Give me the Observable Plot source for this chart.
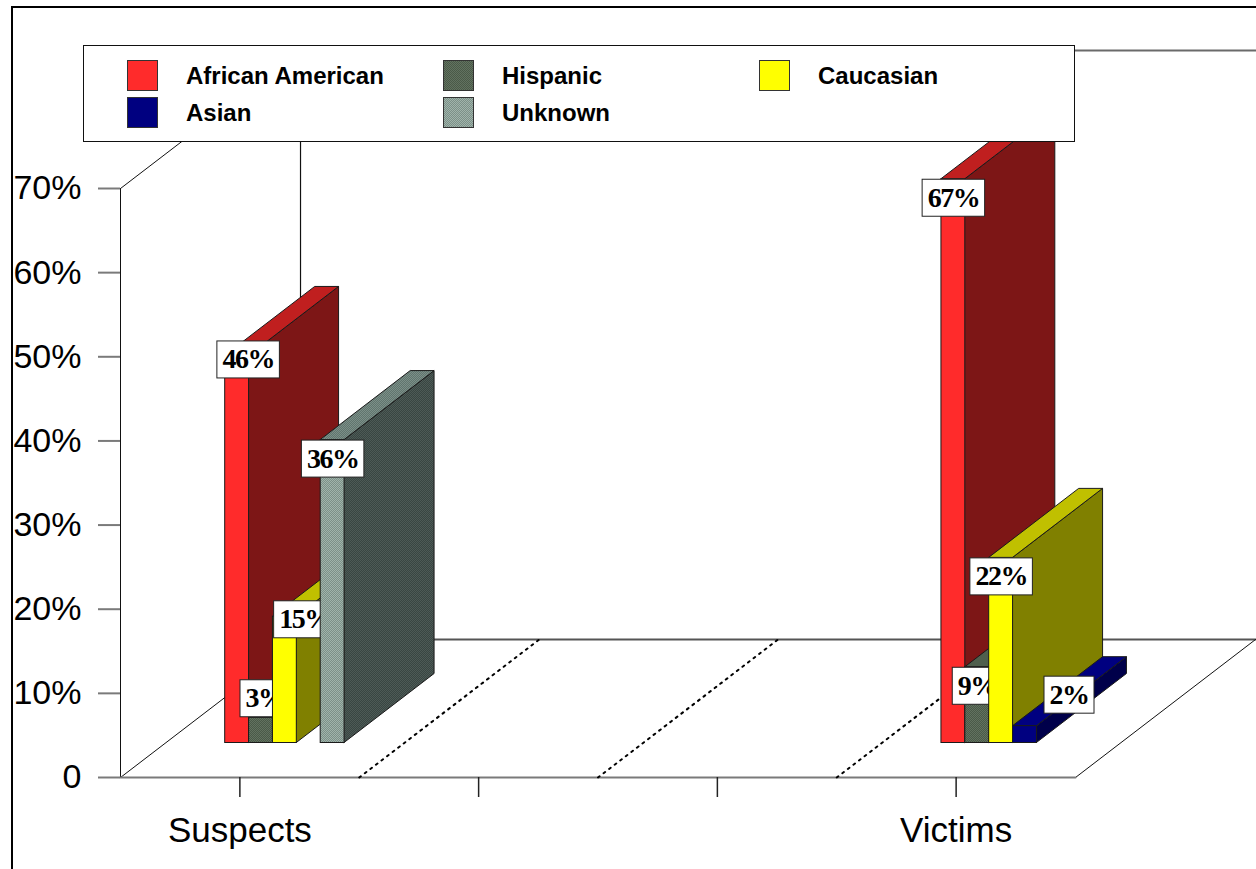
<!DOCTYPE html>
<html>
<head>
<meta charset="utf-8">
<script src="https://cdn.jsdelivr.net/npm/d3@7"></script>
<script src="https://cdn.jsdelivr.net/npm/@observablehq/plot@0.6"></script>
<style>
  body { margin: 0; background: #fff; }
  #wrap { position: relative; width: 1256px; height: 869px; overflow: hidden; font-family: "Liberation Sans", Arial, sans-serif; }
  #frame { position: absolute; left: 11px; top: 6px; width: 1400px; height: 1000px; border-top: 2.5px solid #000; border-left: 2.5px solid #000; pointer-events: none; }
  #chart { position: absolute; left: 0; top: 0; }
  #legend { position: absolute; left: 83px; top: 45px; width: 990px; height: 95px; border: 1.5px solid #111; background: #fff; }
  .item { position: absolute; display: flex; align-items: center; font-weight: bold; font-size: 24px; color: #000; }
  .sw { width: 31px; height: 31px; border: 1px solid #333; box-sizing: border-box; margin-right: 28px; }
</style>
</head>
<body>
<svg width="0" height="0" style="position:absolute">
  <defs>
    <pattern id="stipple-hisp-front" width="2" height="2" patternUnits="userSpaceOnUse">
      <rect width="2" height="2" fill="#4a5a48"/><rect width="1" height="1" fill="#627260"/><rect x="1" y="1" width="1" height="1" fill="#627260"/>
    </pattern>
    <pattern id="stipple-hisp-side" width="2" height="2" patternUnits="userSpaceOnUse">
      <rect width="2" height="2" fill="#333f33"/><rect width="1" height="1" fill="#475347"/><rect x="1" y="1" width="1" height="1" fill="#475347"/>
    </pattern>
    <pattern id="stipple-unk-front" width="2" height="2" patternUnits="userSpaceOnUse">
      <rect width="2" height="2" fill="#7c9088"/><rect width="1" height="1" fill="#a0b4ab"/><rect x="1" y="1" width="1" height="1" fill="#a0b4ab"/>
    </pattern>
    <pattern id="stipple-unk-side" width="2" height="2" patternUnits="userSpaceOnUse">
      <rect width="2" height="2" fill="#394642"/><rect width="1" height="1" fill="#4d5a56"/><rect x="1" y="1" width="1" height="1" fill="#4d5a56"/>
    </pattern>
    <pattern id="stipple-unk-top" width="2" height="2" patternUnits="userSpaceOnUse">
      <rect width="2" height="2" fill="#61756e"/><rect width="1" height="1" fill="#7b8f88"/><rect x="1" y="1" width="1" height="1" fill="#7b8f88"/>
    </pattern>
  </defs>
</svg>
<div id="wrap">
  <div id="chart"></div>
  <div id="legend"></div>
  <div id="frame"></div>
</div>
<script>
// ---- data ----
const categories = ["Suspects", "", "", "Victims"];
const races = ["African American", "Hispanic", "Caucasian", "Asian", "Unknown"];
const suspects = [46, 3, 15, 0, 36];
const victims = [67, 9, 22, 2, 0];
const yTicks = [0, 10, 20, 30, 40, 50, 60, 70];

// ---- colours per race: front face, right side face, top face, legend swatch ----
const frontFill = ["#ff2b2b", "url(#stipple-hisp-front)", "#ffff00", "#000080", "url(#stipple-unk-front)"];
const sideFill = ["#7d1616", "url(#stipple-hisp-side)", "#808000", "#00004a", "url(#stipple-unk-side)"];
const topFill = ["#c01f1f", "#4f5f4d", "#c0c000", "#000080", "url(#stipple-unk-top)"];
const swatchCss = [
  "#ff2b2b",
  "repeating-conic-gradient(#4a5a48 0 25%, #627260 0 50%) 0 0/2px 2px",
  "#ffff00",
  "#000080",
  "repeating-conic-gradient(#7c9088 0 25%, #a0b4ab 0 50%) 0 0/2px 2px"
];

// ---- pseudo-3D geometry (in data units) ----
const DX = 0.754;           // horizontal shift of the full floor depth, in category slots
const DY = 16.4;            // vertical shift of the full floor depth, in percent
const Z0 = 0.25, Z1 = 0.75; // depth range occupied by the bars
const GROUP = 0.5;          // share of a category slot taken by its bar group
const BAR = GROUP / races.length;
const nCat = categories.length;
const yMax = d3.max(yTicks);
const LABEL_FONT = "'Liberation Serif', 'Times New Roman', serif";
const BOX_H = 37;           // height of a value label box, px

const groups = [
  {cat: categories.indexOf("Suspects"), values: suspects},
  {cat: categories.indexOf("Victims"), values: victims}
];

const bars = [];
for (const {cat, values} of groups) {
  values.forEach((v, i) => {
    if (v > 0) {
      const x1 = cat + (1 - GROUP) / 2 + i * BAR;
      bars.push({id: `${categories[cat]}|${races[i]}`, race: i, v, x1, x2: x1 + BAR});
    }
  });
}

// label offsets (px) where a label sits away from its bar top
const labelNudge = {
  "Suspects|African American": [11, -15],
  "Suspects|Hispanic": [4, -38],
  "Suspects|Caucasian": [20, -16],
  "Victims|Asian": [44, -50]
};

// ---- floor and wall outline ----
const edges = [
  {pts: [[DX, yMax + DY], [nCat + DX, yMax + DY]], stroke: "#6a6a6a", w: 2},
  {pts: [[DX, DY], [nCat + DX, DY]], stroke: "#555", w: 2},
  {pts: [[DX, DY], [DX, yMax + DY]], stroke: "#111", w: 1.2},
  {pts: [[0, 0], [0, yMax]], stroke: "#111", w: 1},
  {pts: [[0, yMax], [DX, yMax + DY]], stroke: "#111", w: 1},
  {pts: [[0, 0], [DX, DY]], stroke: "#111", w: 1},
  {pts: [[nCat, 0], [nCat + DX, DY]], stroke: "#111", w: 1},
  {pts: [[0, 0], [nCat, 0]], stroke: "#7a7a7a", w: 2}
];
const edgeMarks = edges.map(e => Plot.line(e.pts, {x: p => p[0], y: p => p[1], stroke: e.stroke, strokeWidth: e.w}));

const gridPts = d3.range(1, nCat).flatMap(k => [{k, x: k, y: 0}, {k, x: k + DX, y: DY}]);
const gridMark = Plot.line(gridPts, {x: "x", y: "y", z: "k", stroke: "#000", strokeWidth: 2, strokeDasharray: "2 5"});

// ---- bars: side, top and front faces, then the value label, series by series ----
const barMarks = [];
races.forEach((race, i) => {
  const rb = bars.filter(b => b.race === i);
  if (!rb.length) return;
  const sidePts = rb.flatMap(b => [Z0, Z1].map(z => ({id: b.id, x: b.x2 + z * DX, y1: z * DY, y2: b.v + z * DY})));
  const topPts = rb.flatMap(b => [Z0, Z1].map(z => ({id: b.id, y: b.v + z * DY, x1: b.x1 + z * DX, x2: b.x2 + z * DX})));
  barMarks.push(
    Plot.areaY(sidePts, {x: "x", y1: "y1", y2: "y2", z: "id", fill: sideFill[i], stroke: "#1a1a1a", strokeWidth: 1}),
    Plot.areaX(topPts, {y: "y", x1: "x1", x2: "x2", z: "id", fill: topFill[i], stroke: "#1a1a1a", strokeWidth: 1}),
    Plot.rect(rb, {
      x1: b => b.x1 + Z0 * DX, x2: b => b.x2 + Z0 * DX,
      y1: () => Z0 * DY, y2: b => b.v + Z0 * DY,
      fill: frontFill[i], stroke: "#1a1a1a", strokeWidth: 1, inset: 0
    })
  );
  for (const b of rb) {
    const [ndx, ndy] = labelNudge[b.id] || [0, 0];
    barMarks.push(Plot.text([b], {
      x: d => (d.x1 + d.x2) / 2 + Z0 * DX,
      y: d => d.v + Z0 * DY,
      text: d => `${d.v}%`,
      dx: ndx, dy: BOX_H / 2 + ndy,
      lineAnchor: "middle",
      fontFamily: LABEL_FONT,
      fontWeight: "bold", fontSize: 28, fill: "#000"
    }));
  }
});

const chart = Plot.plot({
  width: 1256,
  height: 869,
  marginLeft: 120,
  marginRight: 181,
  marginTop: 188,
  marginBottom: 92,
  style: {background: "transparent", fontFamily: "'Liberation Sans', Arial, sans-serif", overflow: "visible"},
  x: {domain: [0, nCat]},
  y: {domain: [0, yMax]},
  marks: [
    ...edgeMarks,
    gridMark,
    Plot.axisY({ticks: yTicks, tickFormat: d => d === 0 ? "0" : `${d}%`, tickSize: 22, tickPadding: 17,
      fontSize: 34, stroke: "#7a7a7a", strokeWidth: 2, label: null, fill: "#000"}),
    Plot.axisX({ticks: categories.map((c, k) => k + 0.5), tickFormat: d => categories[Math.floor(d)],
      tickSize: 20, tickPadding: 20, fontSize: 35, stroke: "#222", strokeWidth: 1.5, label: null, fill: "#000"}),
    ...barMarks
  ]
});
document.getElementById("chart").appendChild(chart);

// white boxes behind the value labels (the label marks are the serif-font groups);
// each box shares its text's transform and is centred on the text's anchor
chart.querySelectorAll("g[font-family] text").forEach(t => {
  if (!t.parentNode.getAttribute("font-family").includes("Serif")) return;
  t.setAttribute("letter-spacing", "-1.5");
  const bb = t.getBBox();
  const cx = bb.x + bb.width / 2;
  const w = bb.width + 11;
  const r = document.createElementNS("http://www.w3.org/2000/svg", "rect");
  if (t.getAttribute("transform")) r.setAttribute("transform", t.getAttribute("transform"));
  r.setAttribute("x", cx - w / 2);
  r.setAttribute("y", -BOX_H / 2);
  r.setAttribute("width", w);
  r.setAttribute("height", BOX_H);
  r.setAttribute("fill", "#fff");
  r.setAttribute("stroke", "#222");
  r.setAttribute("stroke-width", 1);
  t.parentNode.insertBefore(r, t);
});

// legend: two rows, three columns
const legend = document.getElementById("legend");
const cols = [43, 359, 675], rows = [14, 51];
const order = ["African American", "Hispanic", "Caucasian", "Asian", "Unknown"];
order.forEach((name, k) => {
  const i = races.indexOf(name);
  const item = document.createElement("div");
  item.className = "item";
  item.style.left = cols[k % 3] + "px";
  item.style.top = rows[Math.floor(k / 3)] + "px";
  const sw = document.createElement("div");
  sw.className = "sw";
  sw.style.background = swatchCss[i];
  const label = document.createElement("span");
  label.textContent = name;
  item.append(sw, label);
  legend.appendChild(item);
});
</script>
</body>
</html>
